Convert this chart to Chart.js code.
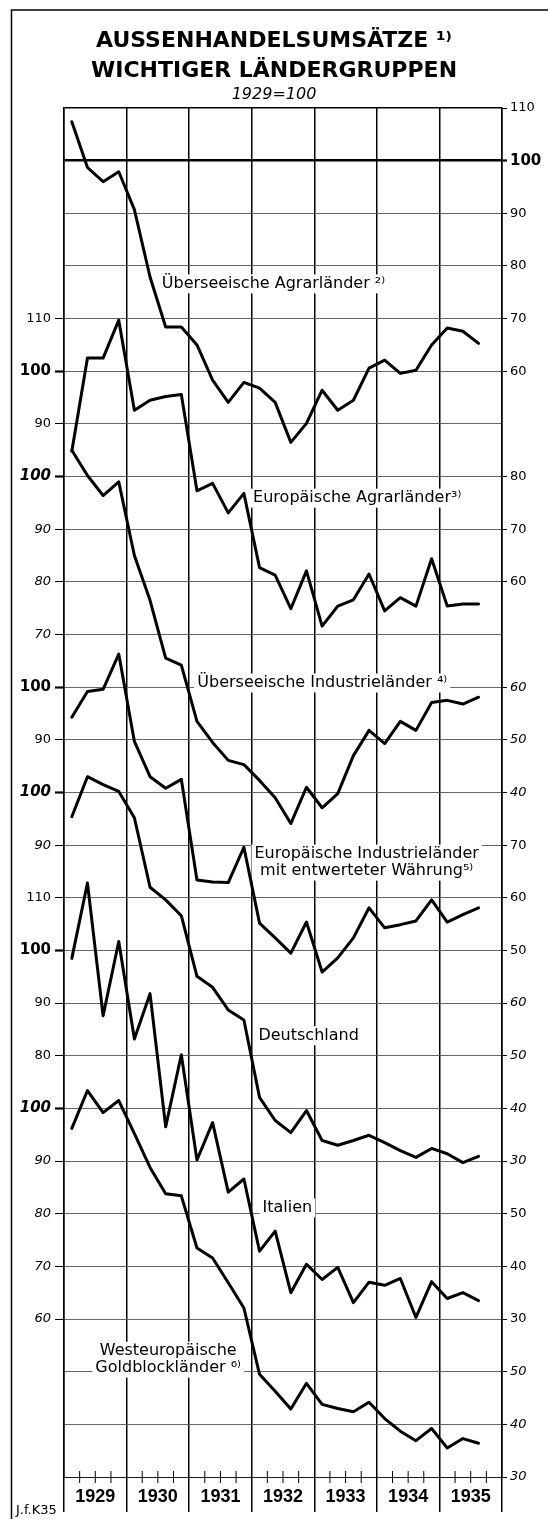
<!DOCTYPE html>
<html>
<head>
<meta charset="utf-8">
<script src="https://cdn.jsdelivr.net/npm/chart.js@4.4.0/dist/chart.umd.min.js"></script>
<style>
html, body { margin: 0; padding: 0; background: #fff; }
</style>
</head>
<body>
<canvas id="chart" width="548" height="1519"></canvas>
<script>
// quarterly values, 1929 Q1 .. 1935 Q3, 1929 = 100
var years = ['1929', '1930', '1931', '1932', '1933', '1934', '1935'];

var ueberseeAgrar = [107.4, 98.7, 96.0, 97.9, 90.7, 77.9, 68.4, 68.4, 65.0, 58.3, 54.1, 57.9, 56.8, 54.1,
	46.5, 50.1, 56.4, 52.6, 54.5, 60.6, 62.1, 59.6, 60.2, 65.0, 68.2, 67.6, 65.3];
var europaAgrar = [84.8, 102.5, 102.5, 109.7, 92.6, 94.5, 95.2, 95.6, 77.3, 78.7, 73.1, 76.8, 62.7, 61.3,
	54.9, 62.1, 51.6, 55.4, 56.6, 61.5, 54.5, 57.0, 55.4, 64.4, 55.4, 55.8, 55.8];
var ueberseeIndustrie = [105.0, 100.2, 96.4, 99.0, 85.0, 76.5, 65.5, 64.2, 53.5, 49.5, 46.1, 45.3, 42.3, 39.0,
	34.1, 41.0, 37.1, 39.8, 47.0, 51.8, 49.3, 53.5, 51.8, 57.1, 57.5, 56.8, 58.1];
var europaIndustrie = [94.3, 99.2, 99.6, 106.3, 89.7, 83.0, 80.8, 82.5, 63.4, 63.0, 62.9, 69.6, 55.2, 52.4,
	49.5, 55.4, 45.9, 48.6, 52.4, 58.1, 54.3, 54.9, 55.6, 59.6, 55.4, 56.8, 58.1];
var deutschland = [95.4, 103.0, 101.5, 100.2, 95.2, 82.0, 79.6, 76.6, 65.1, 63.0, 58.7, 56.8, 42.1, 37.7,
	35.4, 39.6, 33.9, 33.0, 33.9, 34.9, 33.5, 32.0, 30.7, 32.4, 31.4, 29.7, 30.9];
var italien = [98.5, 112.8, 87.6, 101.7, 83.2, 91.8, 66.5, 80.2, 60.2, 67.3, 54.1, 56.6, 42.9, 46.7,
	35.0, 40.4, 37.5, 39.8, 33.1, 37.0, 36.4, 37.7, 30.3, 37.1, 33.9, 35.0, 33.5];
var goldblock = [96.2, 103.4, 99.2, 101.5, 95.2, 88.8, 83.8, 83.4, 73.5, 71.6, 66.9, 62.1, 49.5, 46.3,
	42.9, 47.8, 43.8, 43.0, 42.4, 44.2, 41.1, 38.7, 36.9, 39.2, 35.5, 37.3, 36.4];

// scale labels of each curve, left and right side
var leftLabels = [[], [110, 100, 90], [100, 90, 80, 70], [100, 90], [100, 90], [110, 100, 90, 80], [100, 90, 80, 70, 60]];
var rightLabels = [[110, 100, 90, 80, 70, 60], [80, 70, 60], [60, 50, 40], [70, 60, 50], [60, 50, 40, 30], [50, 40, 30], [50, 40, 30]];

var seriesNames = [
	['Überseeische Agrarländer ²⁾'],
	['Europäische Agrarländer³⁾'],
	['Überseeische Industrieländer ⁴⁾'],
	['Europäische Industrieländer', 'mit entwerteter Währung⁵⁾'],
	['Deutschland'],
	['Italien'],
	['Westeuropäische', 'Goldblockländer ⁶⁾']
];

// layout: vertical shift of each curve (in index points), italic scales, label anchors
var seriesData = [ueberseeAgrar, europaAgrar, ueberseeIndustrie, europaIndustrie, deutschland, italien, goldblock];
var seriesOffset = [0, 40, 60, 100, 120, 150, 180];
var italicScale = [false, false, true, false, true, false, true];
var labelAnchor = [[6.25, 23.4, 'left'], [12.09, 64.1, 'left'], [8.52, 99.2, 'left'], [19.35, 131.7, 'center'],
	[12.43, 166.2, 'left'], [12.69, 198.9, 'left'], [6.66, 226.1, 'center']];

var FONT = "'DejaVu Sans', sans-serif";

var leftMap = {}, rightMap = {};
function addLabels(map, list, k) {
	list.forEach(function(v) {
		map[seriesOffset[k] + 100 - v] = { text: String(v), bold: v === 100, italic: italicScale[k] };
	});
}
for (var k = 0; k < seriesData.length; k++) {
	addLabels(leftMap, leftLabels[k], k);
	addLabels(rightMap, rightLabels[k], k);
}

var gridY = [];
for (var g = -10; g <= 250; g += 10) gridY.push(g);

function tickFont(map) {
	return function(ctx) {
		var m = ctx.tick ? map[ctx.tick.value] : null;
		if (!m) return { family: FONT, size: 13 };
		return { family: FONT, size: m.bold ? 15 : 13, weight: m.bold ? 'bold' : 'normal', style: m.italic ? 'italic' : 'normal' };
	};
}
function tickShown(map) {
	return function(ctx) { return ctx.tick && map[ctx.tick.value] ? '#000' : 'rgba(0,0,0,0)'; };
}
function tickW(map) {
	return function(ctx) { var m = ctx.tick ? map[ctx.tick.value] : null; return m && m.bold ? 2.2 : 1; };
}

var datasets = seriesData.map(function(vals, k) {
	return {
		label: seriesNames[k].join(' '),
		data: vals.map(function(v, i) { return { x: i + 0.5, y: seriesOffset[k] + 100 - v }; }),
		borderColor: '#000',
		borderWidth: 3,
		pointRadius: 0,
		fill: false,
		tension: 0,
		borderJoinStyle: 'round',
		borderCapStyle: 'round',
		xAxisID: 'x',
		yAxisID: 'yL'
	};
});

var extras = {
	id: 'extras',
	beforeDraw: function(chart) {
		var c = chart.ctx;
		c.save();
		c.fillStyle = '#fff';
		c.fillRect(0, 0, chart.width, chart.height);
		c.strokeStyle = '#000';
		c.lineWidth = 1.5;
		c.beginPath();
		c.moveTo(11.5, 1519);
		c.lineTo(11.5, 10);
		c.lineTo(548, 10);
		c.stroke();
		c.restore();
	},
	beforeDatasetsDraw: function(chart) {
		var c = chart.ctx, xs = chart.scales.x, ys = chart.scales.yL;
		c.save();
		// quarter marks on the base line
		c.strokeStyle = '#000';
		c.lineWidth = 1;
		var yb = ys.getPixelForValue(250);
		for (var q = 1; q < 28; q++) {
			if (q % 4 === 0) continue;
			var xq = xs.getPixelForValue(q);
			c.beginPath();
			c.moveTo(xq, yb - 6);
			c.lineTo(xq, yb + 6);
			c.stroke();
		}
		// curve names
		c.font = '16px ' + FONT;
		c.textBaseline = 'middle';
		seriesNames.forEach(function(lines, k) {
			var a = labelAnchor[k];
			var x0 = xs.getPixelForValue(a[0]);
			var y0 = ys.getPixelForValue(a[1]);
			var lh = 17;
			var w = 0;
			lines.forEach(function(t) { w = Math.max(w, c.measureText(t).width); });
			var left = a[2] === 'center' ? x0 - w / 2 : x0;
			c.fillStyle = '#fff';
			c.fillRect(left - 3, y0 - lh / 2 - 1, w + 6, lh * lines.length + 2);
			c.fillStyle = '#000';
			c.textAlign = a[2];
			lines.forEach(function(t, j) { c.fillText(t, x0, y0 + j * lh); });
		});
		c.restore();
	},
	afterDraw: function(chart) {
		var c = chart.ctx;
		c.save();
		c.fillStyle = '#000';
		c.font = '13px ' + FONT;
		c.textAlign = 'left';
		c.textBaseline = 'middle';
		c.fillText('J.f.K35', 16, 1511);
		c.restore();
	}
};

new Chart(document.getElementById('chart'), {
	type: 'line',
	data: { datasets: datasets },
	options: {
		responsive: false,
		devicePixelRatio: 1,
		animation: false,
		layout: { padding: 0 },
		plugins: {
			legend: { display: false },
			tooltip: { enabled: false },
			title: {
				display: true,
				text: ['AUSSENHANDELSUMSÄTZE ¹⁾', 'WICHTIGER LÄNDERGRUPPEN'],
				color: '#000',
				font: { family: FONT, size: 22, weight: 'bold', lineHeight: '30px' },
				padding: { top: 26, bottom: 0 }
			},
			subtitle: {
				display: true,
				text: '1929=100',
				color: '#000',
				font: { family: FONT, size: 16, style: 'italic', lineHeight: '18px' },
				padding: { top: 0, bottom: 4 }
			}
		},
		scales: {
			x: { type: 'linear', display: false, min: 0, max: 28 },
			xYears: {
				type: 'category',
				labels: years,
				position: 'bottom',
				offset: true,
				grid: { offset: true, color: '#000', lineWidth: 1.5, tickLength: 35, drawOnChartArea: true },
				border: { display: false },
				ticks: {
					padding: -26, maxRotation: 0, autoSkip: false, color: '#000',
					font: { family: "'Liberation Sans', Arial, sans-serif", size: 18, weight: 'bold' }
				},
				afterFit: function(s) { s.height = 42; }
			},
			yL: {
				type: 'linear',
				position: 'left',
				reverse: true,
				min: -10,
				max: 250,
				afterBuildTicks: function(s) { s.ticks = gridY.map(function(v) { return { value: v }; }); },
				grid: {
					color: function(ctx) { var v = ctx.tick ? ctx.tick.value : 1; return (v === 0 || v === -10 || v === 250) ? '#000' : '#555'; },
					lineWidth: function(ctx) { var v = ctx.tick ? ctx.tick.value : 1; return v === 0 ? 2.5 : (v === -10 ? 1.5 : 0.9); },
					tickLength: 9,
					tickColor: tickShown(leftMap),
					tickWidth: tickW(leftMap)
				},
				border: { display: true, color: '#000', width: 1.5 },
				ticks: {
					padding: 4,
					color: '#000',
					autoSkip: false,
					callback: function(v) { return leftMap[v] ? leftMap[v].text : ''; },
					font: tickFont(leftMap)
				},
				afterFit: function(s) { s.width = 64; }
			},
			yR: {
				type: 'linear',
				position: 'right',
				reverse: true,
				min: -10,
				max: 250,
				afterBuildTicks: function(s) { s.ticks = gridY.map(function(v) { return { value: v }; }); },
				grid: {
					drawOnChartArea: false,
					tickLength: 5,
					tickColor: tickShown(rightMap),
					tickWidth: tickW(rightMap)
				},
				border: { display: true, color: '#000', width: 1.5 },
				ticks: {
					padding: 3,
					color: '#000',
					autoSkip: false,
					callback: function(v) { return rightMap[v] ? rightMap[v].text : ''; },
					font: tickFont(rightMap)
				},
				afterFit: function(s) { s.width = 46; }
			}
		}
	},
	plugins: [extras]
});
</script>
</body>
</html>
